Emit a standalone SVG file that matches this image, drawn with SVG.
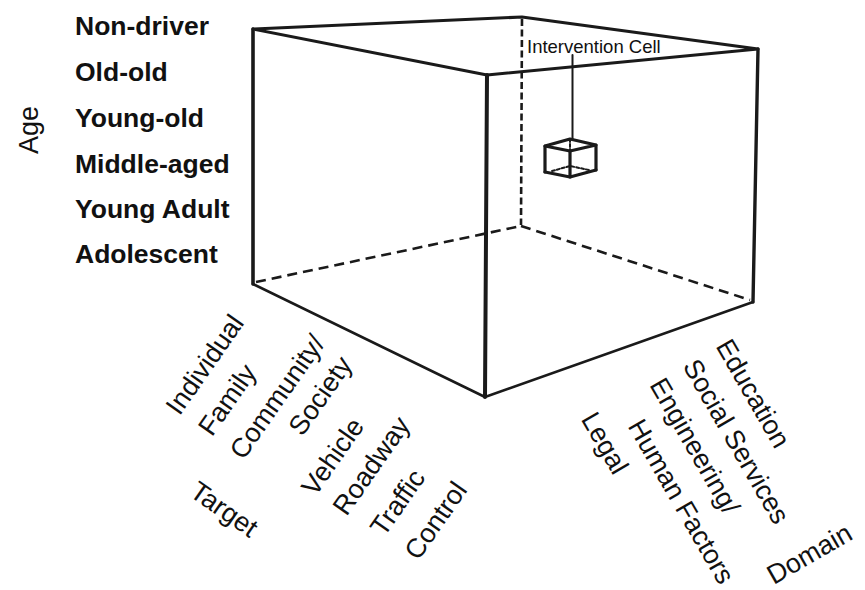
<svg xmlns="http://www.w3.org/2000/svg" width="865" height="590" viewBox="0 0 865 590">
  <style>
    .solid { fill: none; stroke: #1a1a1a; stroke-linecap: round; stroke-linejoin: round; }
    .dash { fill: none; stroke: #1a1a1a; stroke-width: 2.6; }
    .age { font-family: "Liberation Sans", Arial, sans-serif; font-size: 26.5px; font-weight: bold; fill: #111; }
    .lbl { font-family: "Liberation Sans", Arial, sans-serif; font-size: 27px; fill: #111; text-anchor: middle; }
    .small { font-family: "Liberation Sans", Arial, sans-serif; font-size: 18.5px; fill: #111; }
  </style>
  <rect width="865" height="590" fill="#ffffff"/>

  <g id="connectors">
    <!-- hidden edges -->
    <line class="dash" x1="522" y1="19" x2="521" y2="225" stroke-dasharray="7 3.5" stroke-width="3"/>
    <line class="dash" x1="256" y1="282" x2="521" y2="226" stroke-dasharray="10 6"/>
    <line class="dash" x1="521" y1="226" x2="750" y2="300" stroke-dasharray="10 6"/>
  </g>

  <g id="cube">
    <polygon class="solid" points="253,29 522,17 758,49 487,75" stroke-width="3"/>
    <line class="solid" x1="253" y1="29" x2="253" y2="284" stroke-width="3.6"/>
    <line class="solid" x1="487" y1="75" x2="485" y2="397" stroke-width="4"/>
    <line class="solid" x1="758" y1="49" x2="753" y2="302" stroke-width="3.4"/>
    <polyline class="solid" points="253,284 485,397 753,302" stroke-width="2.6"/>
  </g>

  <g id="intervention-cell">
    <line class="solid" x1="572.5" y1="55" x2="572.5" y2="140" stroke-width="2"/>
    <text class="small" x="527" y="53">Intervention Cell</text>
    <g class="solid" stroke-width="3.2">
      <polygon points="545,146 570,139 596,145 570,151" />
      <line x1="545" y1="146" x2="545" y2="172"/>
      <line x1="596" y1="145" x2="596" y2="170"/>
      <line x1="570" y1="151" x2="570" y2="177"/>
      <polyline points="545,172 570,177 596,170"/>
    </g>
    <g class="solid" stroke-width="2">
      <line x1="570" y1="139" x2="570" y2="166" stroke-dasharray="3 2"/>
      <polyline points="552,171 570,166 589,170" stroke-dasharray="3 2"/>
    </g>
  </g>

  <g id="age-axis">
    <text class="lbl" transform="translate(38,130) rotate(-90)" x="0" y="0" style="font-size:27px">Age</text>
    <text class="age" x="75" y="35">Non-driver</text>
    <text class="age" x="75" y="81">Old-old</text>
    <text class="age" x="75" y="127">Young-old</text>
    <text class="age" x="75" y="173">Middle-aged</text>
    <text class="age" x="75" y="218">Young Adult</text>
    <text class="age" x="75" y="263">Adolescent</text>
  </g>

  <g id="target-axis">
    <text class="lbl" transform="translate(204,364) rotate(-55)" y="10">Individual</text>
    <text class="lbl" transform="translate(229,401) rotate(-55)" y="7">Family</text>
    <text class="lbl" transform="translate(279,398) rotate(-55)" y="7">Community/</text>
    <text class="lbl" transform="translate(322,397) rotate(-55)" y="7">Society</text>
    <text class="lbl" transform="translate(332,456) rotate(-55)" y="10">Vehicle</text>
    <text class="lbl" transform="translate(373,467) rotate(-55)" y="7">Roadway</text>
    <text class="lbl" transform="translate(397,502) rotate(-55)" y="10">Traffic</text>
    <text class="lbl" transform="translate(435,520) rotate(-55)" y="10">Control</text>
    <text class="lbl" transform="translate(223,511) rotate(35)" y="7">Target</text>
  </g>

  <g id="domain-axis">
    <text class="lbl" transform="translate(754,393) rotate(60)" y="10">Education</text>
    <text class="lbl" transform="translate(737,441) rotate(60)" y="10">Social Services</text>
    <text class="lbl" transform="translate(693,447) rotate(60)" y="7">Engineering/</text>
    <text class="lbl" transform="translate(682,501) rotate(60)" y="10">Human Factors</text>
    <text class="lbl" transform="translate(603,444) rotate(60)" y="7">Legal</text>
    <text class="lbl" transform="translate(809,553) rotate(-30)" y="10">Domain</text>
  </g>
</svg>
